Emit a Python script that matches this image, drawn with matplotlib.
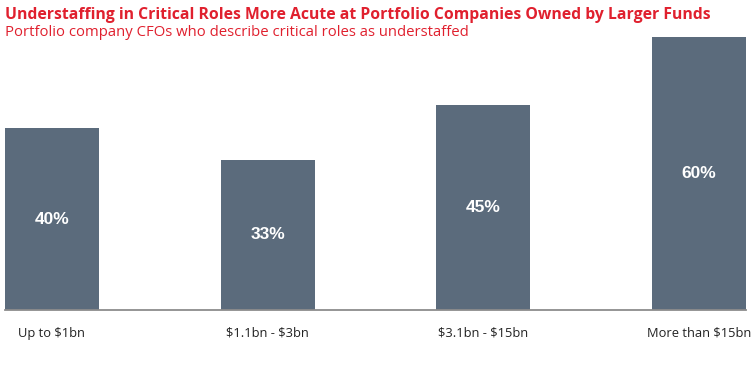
import matplotlib
matplotlib.use("Agg")
import matplotlib.pyplot as plt

categories = ["Up to $1bn", "$1.1bn - $3bn", "$3.1bn - $15bn", "More than $15bn"]
values = [40, 33, 45, 60]
value_labels = ["40%", "33%", "45%", "60%"]
title = "Understaffing in Critical Roles More Acute at Portfolio Companies Owned by Larger Funds"
subtitle = "Portfolio company CFOs who describe critical roles as understaffed"

W, H = 752, 383
fig = plt.figure(figsize=(W / 100, H / 100), dpi=100)
left_px, right_px, top_px, bot_px = 5, 746, 37, 310
ax = fig.add_axes([left_px / W, 1 - bot_px / H, (right_px - left_px) / W, (bot_px - top_px) / H])

bw = 0.435
x = list(range(len(categories)))
bar_color = "#5B6B7C"
ax.bar(x, values, width=bw, color=bar_color, zorder=2)
ax.set_xlim(-bw / 2, len(categories) - 1 + bw / 2)
ax.set_ylim(0, 60)

for xi, v, lab in zip(x, values, value_labels):
    ax.text(xi, v / 2, lab, ha="center", va="center", color="white",
            fontsize=12.5, fontweight="bold", family="Liberation Sans")

for s in ["left", "right", "top"]:
    ax.spines[s].set_visible(False)
ax.spines["bottom"].set_color("#8C8C8C")
ax.spines["bottom"].set_linewidth(1.3)
ax.set_yticks([])
ax.set_xticks(x)
ax.set_xticklabels(categories, fontsize=9.3, family="Open Sans", color="#222222",
                   parse_math=False)
ax.tick_params(axis="x", length=0, pad=12)

red = "#E0202E"
fig.text(5 / W, 1 - 15 / H, title, ha="left", va="center", color=red,
         fontsize=11.3, fontweight="bold", family="Open Sans")
fig.text(5 / W, 1 - 32 / H, subtitle, ha="left", va="center", color=red,
         fontsize=10.7, family="Open Sans")

fig.savefig("out.png", dpi=100, facecolor="white")
